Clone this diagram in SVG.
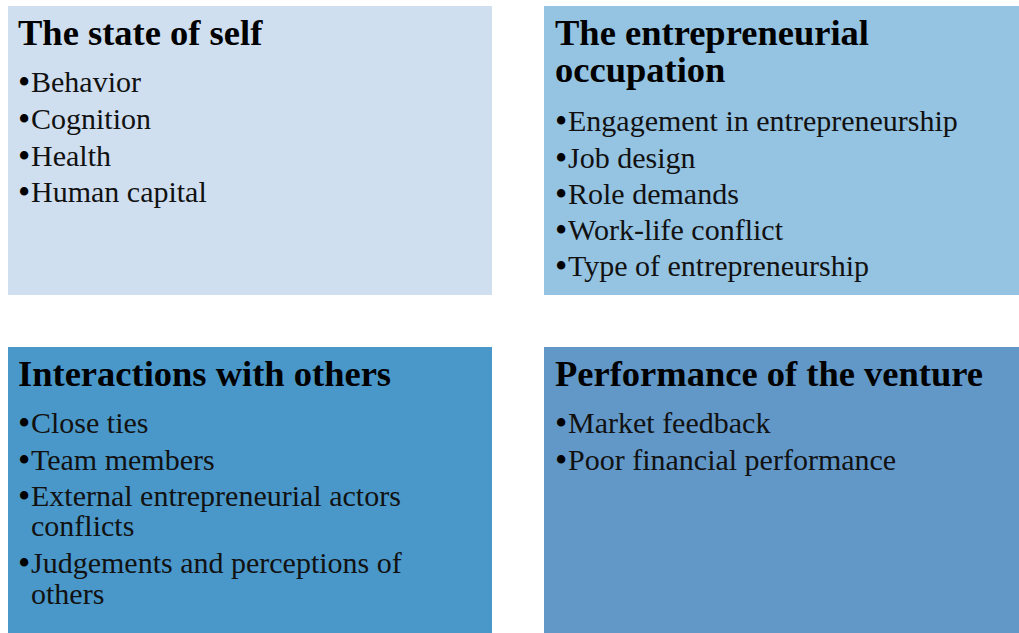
<svg xmlns="http://www.w3.org/2000/svg" width="1019" height="633" viewBox="0 0 1019 633">
  <style>
    .title { font-family: "Liberation Serif", "Times New Roman", serif; font-weight: bold; font-size: 36.5px; fill: #000; }
    .item { font-family: "Liberation Serif", "Times New Roman", serif; font-size: 30px; fill: #111; }
    .bul { font-size: 35px; fill: #000; }
  </style>
  <rect width="1019" height="633" fill="#ffffff"/>

  <g id="state-of-self">
    <rect x="8" y="6" width="484" height="289" fill="#cfdff0"/>
    <text class="title" x="18" y="45">The state of self</text>
    <text class="item" x="18" y="92"><tspan class="bul" dy="2">•</tspan><tspan x="31" dy="-2">Behavior</tspan></text>
    <text class="item" x="18" y="129"><tspan class="bul" dy="2">•</tspan><tspan x="31" dy="-2">Cognition</tspan></text>
    <text class="item" x="18" y="166"><tspan class="bul" dy="2">•</tspan><tspan x="31" dy="-2">Health</tspan></text>
    <text class="item" x="18" y="202"><tspan class="bul" dy="2">•</tspan><tspan x="31" dy="-2">Human capital</tspan></text>
  </g>

  <g id="entrepreneurial-occupation">
    <rect x="544" y="6" width="475" height="289" fill="#95c3e2"/>
    <text class="title" x="555" y="45">The entrepreneurial</text>
    <text class="title" x="555" y="82">occupation</text>
    <text class="item" x="555" y="131"><tspan class="bul" dy="2">•</tspan><tspan x="568" dy="-2">Engagement in entrepreneurship</tspan></text>
    <text class="item" x="555" y="168"><tspan class="bul" dy="2">•</tspan><tspan x="568" dy="-2">Job design</tspan></text>
    <text class="item" x="555" y="204"><tspan class="bul" dy="2">•</tspan><tspan x="568" dy="-2">Role demands</tspan></text>
    <text class="item" x="555" y="240"><tspan class="bul" dy="2">•</tspan><tspan x="568" dy="-2">Work-life conflict</tspan></text>
    <text class="item" x="555" y="276"><tspan class="bul" dy="2">•</tspan><tspan x="568" dy="-2">Type of entrepreneurship</tspan></text>
  </g>

  <g id="interactions-with-others">
    <rect x="8" y="347" width="484" height="286" fill="#4a98ca"/>
    <text class="title" x="18" y="386">Interactions with others</text>
    <text class="item" x="18" y="433"><tspan class="bul" dy="2">•</tspan><tspan x="31" dy="-2">Close ties</tspan></text>
    <text class="item" x="18" y="470"><tspan class="bul" dy="2">•</tspan><tspan x="31" dy="-2">Team members</tspan></text>
    <text class="item" x="18" y="506"><tspan class="bul" dy="2">•</tspan><tspan x="31" dy="-2">External entrepreneurial actors</tspan><tspan x="31" dy="30">conflicts</tspan></text>
    <text class="item" x="18" y="573"><tspan class="bul" dy="2">•</tspan><tspan x="31" dy="-2">Judgements and perceptions of</tspan><tspan x="31" dy="31">others</tspan></text>
  </g>

  <g id="venture-performance">
    <rect x="544" y="347" width="475" height="286" fill="#6298c8"/>
    <text class="title" x="555" y="386">Performance of the venture</text>
    <text class="item" x="555" y="433"><tspan class="bul" dy="2">•</tspan><tspan x="568" dy="-2">Market feedback</tspan></text>
    <text class="item" x="555" y="470"><tspan class="bul" dy="2">•</tspan><tspan x="568" dy="-2">Poor financial performance</tspan></text>
  </g>

  <g id="connectors"/>
</svg>
